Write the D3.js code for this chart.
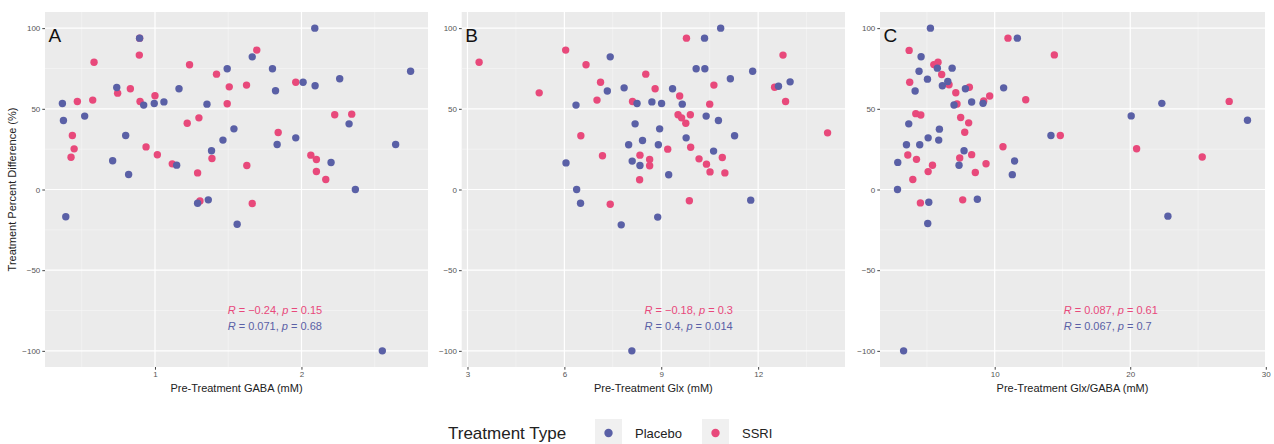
<!DOCTYPE html>
<html><head><meta charset="utf-8">
<script src="https://cdn.jsdelivr.net/npm/d3@7"></script>
<style>
body{margin:0;background:#fff;}
text{font-family:"Liberation Sans",Arial,Helvetica,sans-serif;}
</style>
</head><body>
<svg id="chart" width="1274" height="444"></svg>
<script>
// ---------------- DATA ----------------
const groups = ["Placebo", "SSRI"];
const panelLetters = ["A", "B", "C"];
const xTitles = ["Pre-Treatment GABA (mM)", "Pre-Treatment Glx (mM)", "Pre-Treatment Glx/GABA (mM)"];
const yTitle = "Treatment Percent Difference (%)";
const yTicks = [-100, -50, 0, 50, 100];
const xTicksA = [1, 2];
const xTicksB = [3, 6, 9, 12];
const xTicksC = [10, 20, 30];

// Panel A: pre-treatment GABA vs % difference
const gabaPlacebo = [[0.368,53.3],[0.375,42.8],[0.52,45.5],[0.711,17.8],[0.739,63.2],[0.80,33.5],[0.82,9.3],[0.895,93.8],[0.923,52.3],[0.995,53.3],[1.061,54.3],[1.148,15.1],[1.164,62.4],[1.355,52.9],[1.386,24.0],[1.464,30.6],[1.493,74.8],[1.539,37.6],[1.664,82.2],[1.802,74.8],[1.823,61.2],[1.834,27.9],[1.961,32.0],[2.011,66.5],[2.091,100],[2.093,64.3],[2.202,16.7],[2.261,68.6],[2.325,40.7],[2.368,0],[2.643,27.9],[2.745,73.3],[0.391,-16.9],[1.291,-8.5],[1.364,-6.4],[1.561,-21.5],[2.552,-100]];
const gabaSSRI = [[0.436,33.5],[0.448,25.2],[0.427,20.0],[0.47,54.5],[0.584,78.9],[0.575,55.4],[0.745,59.7],[0.832,62.4],[0.893,83.3],[0.895,93.8],[0.898,54.5],[0.939,26.4],[1.0,58.1],[1.016,21.5],[1.118,15.9],[1.22,41.1],[1.236,77.3],[1.30,44.4],[1.291,10.3],[1.389,19.2],[1.42,71.5],[1.507,63.6],[1.493,53.1],[1.625,64.7],[1.627,14.9],[1.695,86.4],[1.841,35.3],[1.961,66.5],[2.064,21.3],[2.102,18.6],[2.102,11.2],[2.166,6.2],[2.227,46.3],[2.343,46.7],[1.307,-7.1],[1.664,-8.7]];

// Panel B: pre-treatment Glx vs % difference
const glxPlacebo = [[6.36,52.3],[6.05,16.5],[6.38,0],[7.33,61.0],[7.42,82.2],[7.85,63.0],[8.25,53.3],[8.19,40.7],[7.99,27.7],[8.10,17.6],[8.34,14.9],[8.42,30.4],[8.71,54.3],[9.01,53.3],[8.95,37.6],[8.91,27.7],[9.23,9.1],[9.35,62.4],[9.65,52.9],[9.77,32.0],[10.08,74.8],[10.34,93.8],[10.35,74.8],[10.39,45.5],[10.62,23.8],[10.77,42.8],[10.84,100],[11.14,68.6],[11.27,33.3],[11.83,73.3],[12.63,64.0],[12.99,66.7],[6.50,-8.5],[7.76,-21.9],[8.89,-17.1],[11.77,-6.6],[8.09,-100]];
const glxSSRI = [[3.36,78.9],[5.22,59.9],[6.04,86.4],[6.51,33.3],[6.67,77.3],[7.12,66.5],[7.01,55.4],[7.18,20.9],[8.11,54.5],[8.34,21.3],[8.33,6.0],[8.52,71.5],[8.64,18.6],[8.64,14.7],[8.81,62.4],[9.20,25.0],[9.57,57.9],[9.52,46.3],[9.63,44.4],[9.76,41.1],[9.90,46.3],[9.91,26.2],[9.78,93.8],[10.17,19.0],[10.40,15.7],[10.51,10.9],[10.50,52.9],[10.63,64.7],[10.89,19.8],[10.97,10.3],[12.51,63.4],[12.77,83.3],[12.85,54.5],[14.15,35.1],[7.42,-9.1],[9.87,-7.0]];

// Panel C: pre-treatment Glx/GABA vs % difference
const ratioPlacebo = [[5.26,100],[2.85,16.8],[2.83,0],[4.57,82.3],[4.42,73.3],[4.13,61.0],[3.66,40.7],[3.49,27.7],[4.47,27.7],[5.04,68.4],[5.09,32.0],[5.77,75.2],[5.92,37.4],[5.87,30.6],[6.14,64.3],[6.54,66.9],[6.86,75.2],[7.00,52.4],[7.74,24.0],[7.37,15.0],[7.84,62.4],[8.30,54.2],[9.14,53.4],[10.66,63.0],[11.67,93.8],[11.47,17.7],[11.30,9.2],[14.15,33.5],[20.07,45.6],[22.33,53.4],[28.65,42.9],[5.14,-7.9],[5.06,-21.1],[8.72,-6.0],[22.78,-16.5],[3.28,-100]];
const ratioSSRI = [[3.69,86.2],[3.73,66.5],[4.18,47.0],[4.55,46.2],[3.59,21.4],[4.23,18.7],[3.96,6.2],[5.09,11.1],[5.41,15.0],[5.51,77.4],[5.82,78.9],[6.09,71.3],[6.63,64.9],[7.13,60.0],[7.22,53.0],[7.49,44.6],[7.79,35.5],[8.08,41.3],[7.42,19.5],[8.30,21.6],[8.57,10.5],[8.13,63.4],[9.19,54.8],[9.63,57.9],[9.36,16.0],[10.61,26.5],[10.98,93.8],[12.29,55.6],[14.84,33.5],[14.40,83.4],[20.47,25.3],[25.31,20.1],[27.30,54.6],[4.52,-8.3],[7.64,-6.4]];

// Correlation labels [R, p]
const corrSSRI = [["\u22120.24","0.15"],["\u22120.18","0.3"],["0.087","0.61"]];
const corrPlacebo = [["0.071","0.68"],["0.4","0.014"],["0.067","0.7"]];

// ---------------- DRAW ----------------
const colors = {Placebo: "#5a60a6", SSRI: "#e8497b"};
const svg = d3.select("#chart");
const plotTop = 12, plotBottom = 367;
const layout = [{l:45, r:428}, {l:461.7, r:845}, {l:880, r:1265}];
const panelData = [
  {placebo: gabaPlacebo, ssri: gabaSSRI, ticks: xTicksA},
  {placebo: glxPlacebo, ssri: glxSSRI, ticks: xTicksB},
  {placebo: ratioPlacebo, ssri: ratioSSRI, ticks: xTicksC}
];

function expand(ext, f) { const d = ext[1] - ext[0]; return [ext[0] - f*d, ext[1] + f*d]; }

const yDomain = expand(d3.extent(yTicks), 0.05);

panelData.forEach((pd, i) => {
  const L = layout[i];
  const all = pd.placebo.concat(pd.ssri);
  const x = d3.scaleLinear().domain(expand(d3.extent(all, d => d[0]), 0.05)).range([L.l, L.r]);
  const y = d3.scaleLinear().domain(yDomain).range([plotBottom, plotTop]);
  const g = svg.append("g");

  g.append("rect").attr("x", L.l).attr("y", plotTop).attr("width", L.r - L.l).attr("height", plotBottom - plotTop).attr("fill", "#ebebeb");

  // minor grid
  const step = pd.ticks[1] - pd.ticks[0];
  const xMinor = [];
  for (let v = pd.ticks[0] - step/2; v <= x.domain()[1]; v += step) if (v >= x.domain()[0]) xMinor.push(v);
  const yMinor = [-75, -25, 25, 75];
  g.selectAll(".xm").data(xMinor).join("line").attr("x1", d => x(d)).attr("x2", d => x(d)).attr("y1", plotTop).attr("y2", plotBottom).attr("stroke", "#f7f7f7").attr("stroke-width", 0.6);
  g.selectAll(".ym").data(yMinor).join("line").attr("y1", d => y(d)).attr("y2", d => y(d)).attr("x1", L.l).attr("x2", L.r).attr("stroke", "#f7f7f7").attr("stroke-width", 0.6);
  // major grid
  g.selectAll(".xg").data(pd.ticks).join("line").attr("x1", d => x(d)).attr("x2", d => x(d)).attr("y1", plotTop).attr("y2", plotBottom).attr("stroke", "#fff").attr("stroke-width", 1.2);
  g.selectAll(".yg").data(yTicks).join("line").attr("y1", d => y(d)).attr("y2", d => y(d)).attr("x1", L.l).attr("x2", L.r).attr("stroke", "#fff").attr("stroke-width", 1.2);

  // axes
  const ya = g.append("g").attr("transform", `translate(${L.l},0)`).call(d3.axisLeft(y).tickValues(yTicks).tickSize(2.7).tickPadding(2).tickFormat(d3.format("d")));
  const xa = g.append("g").attr("transform", `translate(0,${plotBottom})`).call(d3.axisBottom(x).tickValues(pd.ticks).tickSize(2.7).tickPadding(2).tickFormat(d3.format("d")));
  [ya, xa].forEach(a => {
    a.select(".domain").remove();
    a.selectAll(".tick line").attr("stroke", "#444").attr("stroke-width", 1);
    a.selectAll(".tick text").attr("fill", "#555").style("font-size", "8px").style("font-family", "'Liberation Sans',Arial,sans-serif");
  });

  // points: SSRI first, Placebo on top
  g.append("g").selectAll("circle").data(pd.ssri).join("circle")
    .attr("cx", d => x(d[0])).attr("cy", d => y(d[1])).attr("r", 3.7).attr("fill", colors.SSRI);
  g.append("g").selectAll("circle").data(pd.placebo).join("circle")
    .attr("cx", d => x(d[0])).attr("cy", d => y(d[1])).attr("r", 3.7).attr("fill", colors.Placebo);

  // panel letter
  g.append("text").attr("x", L.l + 3.5).attr("y", 42).attr("font-size", 19).attr("fill", "#111").text(panelLetters[i]);

  // correlation labels
  const lx = L.l + 0.477 * (L.r - L.l);
  [[corrSSRI[i], colors.SSRI, 314], [corrPlacebo[i], colors.Placebo, 330]].forEach(([c, col, yy]) => {
    const t = g.append("text").attr("x", lx).attr("y", yy).attr("font-size", 11).attr("fill", col);
    t.append("tspan").attr("font-style", "italic").text("R");
    t.append("tspan").text(` = ${c[0]}, `);
    t.append("tspan").attr("font-style", "italic").text("p");
    t.append("tspan").text(` = ${c[1]}`);
  });

  // x title
  g.append("text").attr("x", (L.l + L.r) / 2).attr("y", 392).attr("text-anchor", "middle").attr("font-size", 11).attr("fill", "#222").text(xTitles[i]);
});

// y title
svg.append("text").attr("transform", `translate(16,${(plotTop + plotBottom) / 2}) rotate(-90)`).attr("text-anchor", "middle").attr("font-size", 11).attr("fill", "#222").text(yTitle);

// legend
const lg = svg.append("g");
lg.append("text").attr("x", 448).attr("y", 439).attr("font-size", 17).attr("fill", "#222").text("Treatment Type");
const keyX = [595, 702];
groups.forEach((grp, k) => {
  lg.append("rect").attr("x", keyX[k]).attr("y", 419).attr("width", 27).attr("height", 28).attr("fill", "#f0f0f0");
  lg.append("circle").attr("cx", keyX[k] + 13.5).attr("cy", 433).attr("r", 4.2).attr("fill", colors[grp]);
  lg.append("text").attr("x", keyX[k] + 40).attr("y", 437.5).attr("font-size", 13).attr("fill", "#222").text(grp);
});
</script>
</body></html>
